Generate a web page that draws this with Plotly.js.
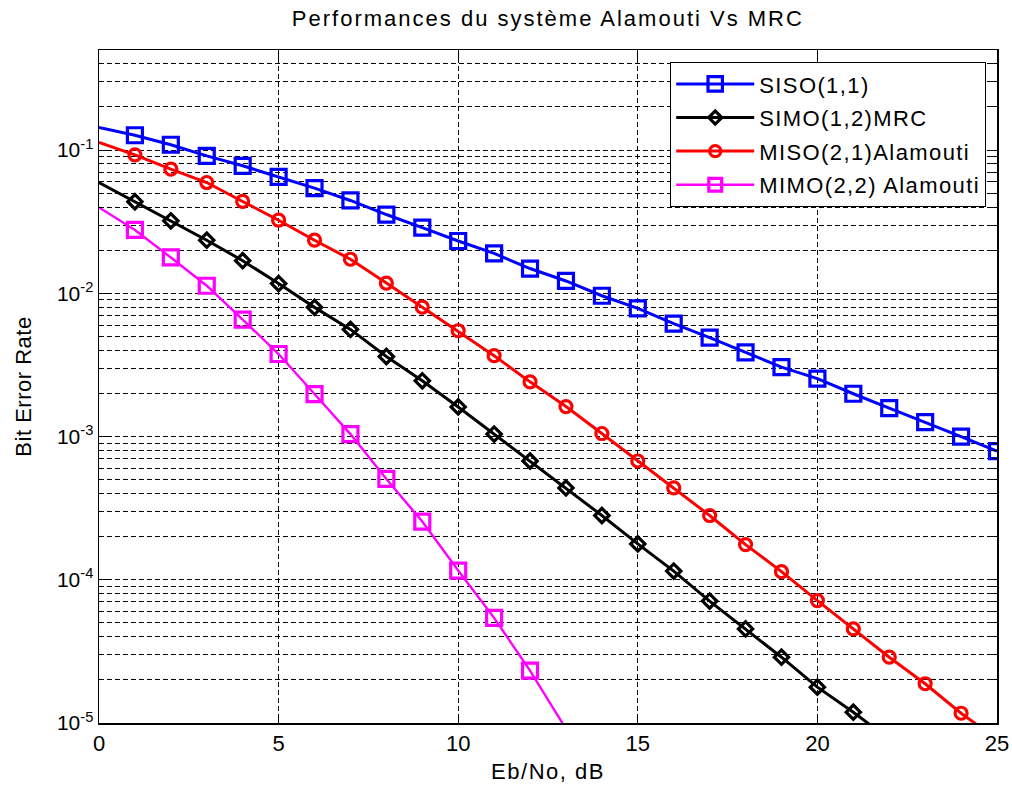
<!DOCTYPE html>
<html>
<head>
<meta charset="utf-8">
<script src="https://cdn.plot.ly/plotly-3.0.1.min.js"></script>
<style>
  html, body { margin: 0; padding: 0; background: #ffffff; }
  #chart { width: 1012px; height: 789px; }
  /* wide screen-font look for the labels */
  text { letter-spacing: 1.4px; }
  .gtitle { letter-spacing: 2px; }
  .xtitle { letter-spacing: 1.5px; }
  .ytitle { letter-spacing: 0.5px; }
  .xtick text, .ytick text { letter-spacing: 0; }
</style>
</head>
<body>
<div id="chart"></div>
<script>
// Eb/No axis (dB)
const ebno = [0, 1, 2, 3, 4, 5, 6, 7, 8, 9, 10, 11, 12, 13, 14, 15, 16, 17, 18, 19, 20, 21, 22, 23, 24, 25];

// Bit error rates per scheme
const berSiso = [0.144, 0.127, 0.109, 0.0912, 0.0777, 0.0650, 0.0543, 0.0445, 0.0355, 0.0288,
  0.0232, 0.0190, 0.0149, 0.0122, 0.00962, 0.00786, 0.00615, 0.00491, 0.00387, 0.00305,
  0.00254, 0.00199, 0.00158, 0.00126, 0.00100, 0.00079];
const berSimoMrc = [0.0594, 0.0436, 0.0321, 0.0235, 0.0169, 0.0117, 0.00798, 0.00560, 0.00362, 0.00245,
  0.00161, 0.00104, 0.000675, 0.000438, 0.000281, 0.000178, 0.000115, 0.0000710, 0.0000454, 0.0000288,
  0.0000178, 0.0000119, 0.0000077];
const berMisoAlamouti = [0.113, 0.0927, 0.0736, 0.0594, 0.0438, 0.0324, 0.0235, 0.0173, 0.0118, 0.0080,
  0.00548, 0.00367, 0.00241, 0.00162, 0.00105, 0.000675, 0.000438, 0.000281, 0.000176, 0.000114,
  0.0000716, 0.0000454, 0.0000288, 0.0000188, 0.0000117, 0.0000077];
const berMimoAlamouti = [0.0398, 0.0277, 0.0178, 0.0113, 0.00656, 0.00377, 0.00198, 0.00104, 0.000506, 0.000255,
  0.000116, 0.0000542, 0.0000232, 0.0000091];

const seriesNames = ['SISO(1,1)', 'SIMO(1,2)MRC', 'MISO(2,1)Alamouti', 'MIMO(2,2) Alamouti'];

// Axis ticks
const xTickVals = [0, 5, 10, 15, 20, 25];
const yTickVals = [1e-5, 1e-4, 1e-3, 1e-2, 1e-1];
const yTickText = ['10<sup>-5</sup>', '10<sup>-4</sup>', '10<sup>-3</sup>', '10<sup>-2</sup>', '10<sup>-1</sup>'];
const yMinorMantissas = [2, 3, 4, 5, 6, 7, 8, 9];
const yMin = 1e-5;
const yMax = 0.5;

const yMinorVals = [];
yTickVals.forEach(d => yMinorMantissas.forEach(m => { if (d * m <= yMax) yMinorVals.push(d * m); }));

const FONT = 'Liberation Sans, Arial, sans-serif';

// markers start at 1 dB (the 0 dB sample only anchors the line);
// points below the axis floor keep their line segment but get no marker
function makeTrace(y, name, color, symbol, size, width) {
  const x = ebno.slice(0, y.length);
  return {
    x: x, y: y, name: name,
    type: 'scatter', mode: 'lines+markers',
    line: { color: color, width: width },
    marker: {
      symbol: symbol,
      size: x.map((v, i) => (v === 0 || y[i] < yMin ? 0 : size)),
      color: color,
      opacity: 1,
      line: { color: color, width: 3.2 }
    },
    legendgroup: name,
    cliponaxis: true
  };
}

const traces = [
  makeTrace(berSiso, seriesNames[0], '#0000ff', 'square-open', 15, 3),
  makeTrace(berSimoMrc, seriesNames[1], '#000000', 'diamond-open', 11, 3),
  makeTrace(berMisoAlamouti, seriesNames[2], '#ff0000', 'circle-open', 12, 3),
  makeTrace(berMimoAlamouti, seriesNames[3], '#ff00ff', 'square-open', 15, 2.4)
];

const gridDash = '5px,3px';

const layout = {
  width: 1012, height: 789,
  margin: { l: 99, r: 15, t: 50, b: 66 },
  paper_bgcolor: '#ffffff', plot_bgcolor: '#ffffff',
  font: { family: FONT, color: '#000000', size: 22 },
  title: {
    text: 'Performances du système Alamouti Vs MRC',
    font: { family: FONT, size: 22, color: '#000000' },
    x: 0.5414, xanchor: 'center', y: 0.977, yanchor: 'middle'
  },
  xaxis: {
    range: [0, 25],
    tickmode: 'array', tickvals: xTickVals,
    ticks: 'inside', ticklen: 9, tickwidth: 1, tickcolor: '#000000',
    showline: true, linecolor: '#000000', linewidth: 1.5, mirror: 'ticks',
    showgrid: true, gridcolor: '#000000', gridwidth: 1, griddash: gridDash,
    zeroline: false,
    tickfont: { family: FONT, size: 22 },
    title: { text: 'Eb/No, dB', font: { family: FONT, size: 22 }, standoff: 8 }
  },
  yaxis: {
    type: 'log',
    range: [Math.log10(yMin), Math.log10(yMax)],
    tickmode: 'array', tickvals: yTickVals, ticktext: yTickText,
    ticks: 'inside', ticklen: 9, tickwidth: 1, tickcolor: '#000000',
    showline: true, linecolor: '#000000', linewidth: 1.5, mirror: 'ticks',
    showgrid: true, gridcolor: '#000000', gridwidth: 1, griddash: gridDash,
    minor: {
      tickmode: 'array', tickvals: yMinorVals,
      ticks: 'inside', ticklen: 5, tickcolor: '#000000', tickwidth: 1,
      showgrid: true, gridcolor: '#000000', gridwidth: 1, griddash: gridDash
    },
    zeroline: false,
    tickfont: { family: FONT, size: 21 },
    title: { text: 'Bit Error Rate', font: { family: FONT, size: 22 }, standoff: 19 }
  },
  legend: {
    x: 0.988, xanchor: 'right', y: 0.982, yanchor: 'top',
    bgcolor: '#ffffff', bordercolor: '#000000', borderwidth: 1,
    font: { family: FONT, size: 22, color: '#000000' },
    traceorder: 'grouped', tracegroupgap: 2,
    itemwidth: 78
  },
  showlegend: true
};

Plotly.newPlot('chart', traces, layout, { displayModeBar: false, staticPlot: true });
</script>
</body>
</html>
